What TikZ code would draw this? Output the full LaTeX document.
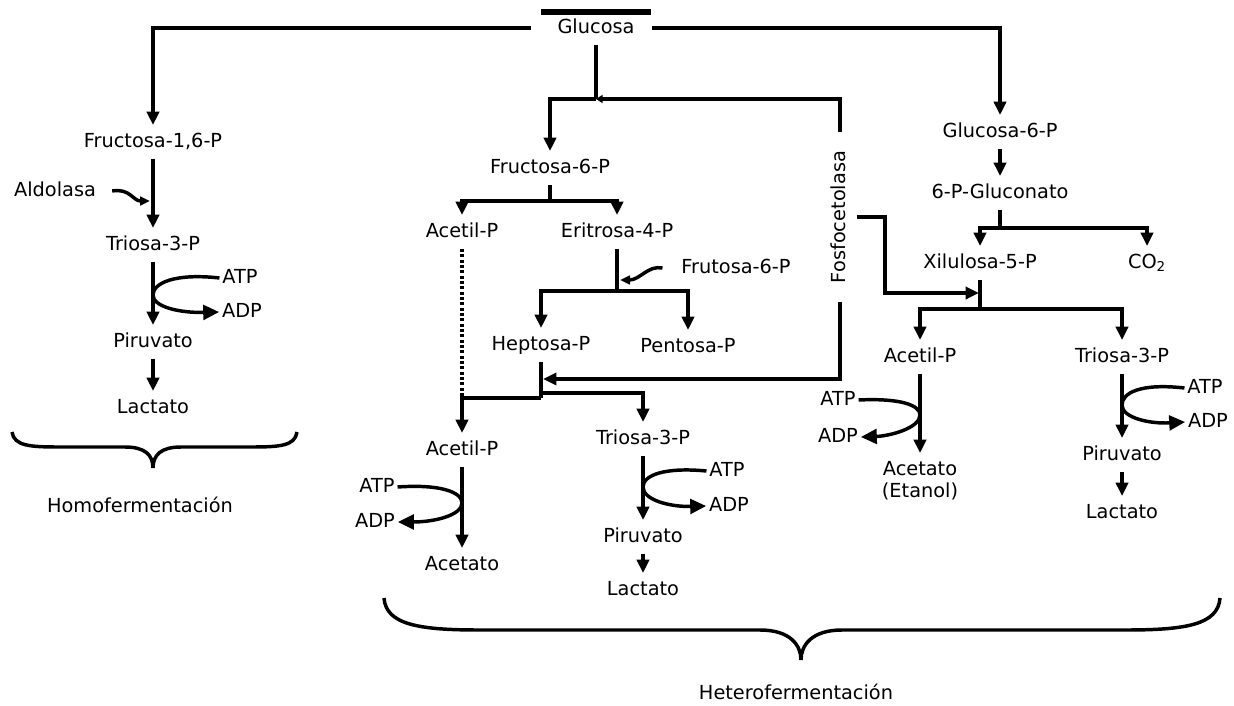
\documentclass[tikz,border=0pt]{standalone}
\usepackage{fontspec}
\setmainfont{DejaVu Sans}
\usetikzlibrary{arrows.meta}

\begin{document}
\begin{tikzpicture}[%every node/.style={draw},
  x=0.75pt, y=-0.75pt,
  every node/.style={font=\fontsize{14.5pt}{17pt}\selectfont,
    inner xsep=2pt, inner ysep=5.5pt, text height=11pt, text depth=3pt},
  conn/.style={line width=2.6pt},
  arr/.style={conn, -{Triangle[length=10pt,width=9pt]}},
  small arr/.style={conn, -{Triangle[length=7.5pt,width=6.5pt]}},
  atp arr/.style={conn, -{Triangle[length=12pt,width=11pt]}},
  ]
  \useasboundingbox (0,0) rectangle (1234,706);

  % homofermentacion
  \node (fru16) at (153,142) {Fructosa-1,6-P};
  \node (ald) at (55,191) {Aldolasa};
  \node (tri1) at (153,245) {Triosa-3-P};
  \node (atp1) at (240,278) {ATP};
  \node (adp1) at (242,312) {ADP};
  \node (pir1) at (153,342) {Piruvato};
  \node (lac1) at (153,408) {Lactato};
  \node (hom) at (140,507) {Homofermentación};

  % heterofermentacion, centre
  \node (glc) at (596,28) {Glucosa};
  \node (fru6) at (550,168) {Fructosa-6-P};
  \node (acet1) at (462,232) {Acetil-P};
  \node (eri) at (617,232) {Eritrosa-4-P};
  \node (frut) at (736,268) {Frutosa-6-P};
  \node (hep) at (541,345) {Heptosa-P};
  \node (pen) at (688,347) {Pentosa-P};
  \node (acet2) at (462,450) {Acetil-P};
  \node (atp2) at (377,487) {ATP};
  \node (adp2) at (375,522) {ADP};
  \node (acto2) at (462,565) {Acetato};
  \node (tri2) at (643,439) {Triosa-3-P};
  \node (atp3) at (727,471) {ATP};
  \node (adp3) at (729,506) {ADP};
  \node (pir2) at (643,537) {Piruvato};
  \node (lac2) at (643,590) {Lactato};
  \node[rotate=90, inner xsep=14pt] (fos) at (840,217) {Fosfocetolasa};

  % heterofermentacion, right
  \node (glc6) at (1000,132) {Glucosa-6-P};
  \node (glcn) at (1000,193) {6-P-Gluconato};
  \node (xil) at (980,263) {Xilulosa-5-P};
  \node (co) at (1147,263) {CO\textsubscript{2}};
  \node (acet3) at (920,357) {Acetil-P};
  \node (atp4) at (838,400) {ATP};
  \node (adp4) at (838,437) {ADP};
  \node (acto3) at (920,470) {Acetato};
  \node (etan) at (920,492) {(Etanol)};
  \node (tri3) at (1122,357) {Triosa-3-P};
  \node (atp5) at (1205,388) {ATP};
  \node (adp5) at (1208,422) {ADP};
  \node (pir3) at (1122,455) {Piruvato};
  \node (lac3) at (1122,513) {Lactato};
  \node (het) at (796,694) {Heterofermentación};

  \coordinate (jg) at (596,99);
  \coordinate (j3) at (541,398);
  \coordinate (j4) at (541,393);
  \coordinate (jf) at (543,379);
  \coordinate (jx) at (979,293);

  \draw[line width=4.5pt] (541,12) -- (651,12);
  \draw[arr] ([xshift=-18pt]glc.west) -| (fru16.north);
  \draw[arr] ([xshift=11pt]glc.east) -| (glc6.north);

  \draw[arr] (fru16.south) -- (tri1.north);
  \draw[small arr] ([xshift=10pt]ald.east) .. controls (130,188) and (133,201) .. (150,201);
  \draw[arr] (tri1.south) -- (pir1.north);
  \draw[atp arr] (atp1.west) .. controls (175,273) and (153,283) .. (153,295)
    .. controls (153,307) and (180,313) .. (adp1.west);
  \draw[arr] (pir1.south) -- (lac1.north);
  \draw[conn] (12,432) .. controls (14,446) and (30,447) .. (60,447) -- (125,447)
    .. controls (145,447) and (153,455) .. (153,468)
    .. controls (153,455) and (161,447) .. (181,447) -- (250,447)
    .. controls (280,447) and (295,446) .. (297,432);

  \draw[conn] (glc.south) -- (jg);
  \draw[arr] (jg) -| (fru6.north);
  \draw[conn, -{Triangle[length=5pt,width=6pt]}] (fos.east) |- (jg);
  \draw[conn] (fru6.south) -- ++(0,16) coordinate (b1);
  \draw[arr] (b1) -| (acet1.north);
  \draw[arr] (b1) -| (eri.north);
  \draw[conn, dash pattern=on 2.4pt off 1.6pt] (acet1.south) -- (acet1.south |- j3);
  \draw[conn] (eri.south) -- ++(0,42) coordinate (b2);
  \draw[small arr] ([xshift=-12pt]frut.west) .. controls (648,265) and (640,280) .. (620,280);
  \draw[arr] (b2) -| (hep.north);
  \draw[arr] (b2) -| (pen.north);
  \draw[conn] (hep.south) -- (j3);
  \draw[arr] (fos.west) |- (jf);
  \draw[arr] (j3) -| (acet2.north);
  \draw[arr] (j4) -| (tri2.north);
  \draw[arr] (acet2.south) -- (acto2.north);
  \draw[atp arr] (atp2.east) .. controls (440,484) and (462,492) .. (462,503)
    .. controls (462,515) and (435,522) .. (adp2.east);
  \draw[arr] (tri2.south) -- (pir2.north);
  \draw[atp arr] (atp3.west) .. controls (665,467) and (643,475) .. (643,487)
    .. controls (643,500) and (670,507) .. (adp3.west);
  \draw[arr] (pir2.south) -- (lac2.north);

  \draw[arr] (glc6.south) -- (glcn.north);
  \draw[conn] (glcn.south) -- ++(0,18) coordinate (b3);
  \draw[arr] (b3) -| (xil.north);
  \draw[arr] (b3) -| (co.north);
  \draw[conn] (xil.south) -- ++(0,29) coordinate (b4);
  \draw[arr] (b4) -| (acet3.north);
  \draw[arr] (b4) -| (tri3.north);
  \draw[arr] (fos.south) -- ++(28,0) |- (jx);
  \draw[arr] (acet3.south) -- (acto3.north);
  \draw[atp arr] (atp4.east) .. controls (900,398) and (920,405) .. (920,415)
    .. controls (920,428) and (890,436) .. (adp4.east);
  \draw[arr] (tri3.south) -- (pir3.north);
  \draw[atp arr] (atp5.west) .. controls (1140,383) and (1122,393) .. (1122,405)
    .. controls (1122,418) and (1150,424) .. (adp5.west);
  \draw[arr] (pir3.south) -- (lac3.north);

  \draw[conn] (384,598) .. controls (386,625) and (420,630) .. (480,630) -- (760,630)
    .. controls (790,630) and (801,645) .. (801,660)
    .. controls (801,645) and (812,630) .. (842,630) -- (1125,630)
    .. controls (1185,630) and (1218,625) .. (1220,598);
\end{tikzpicture}
\end{document}
